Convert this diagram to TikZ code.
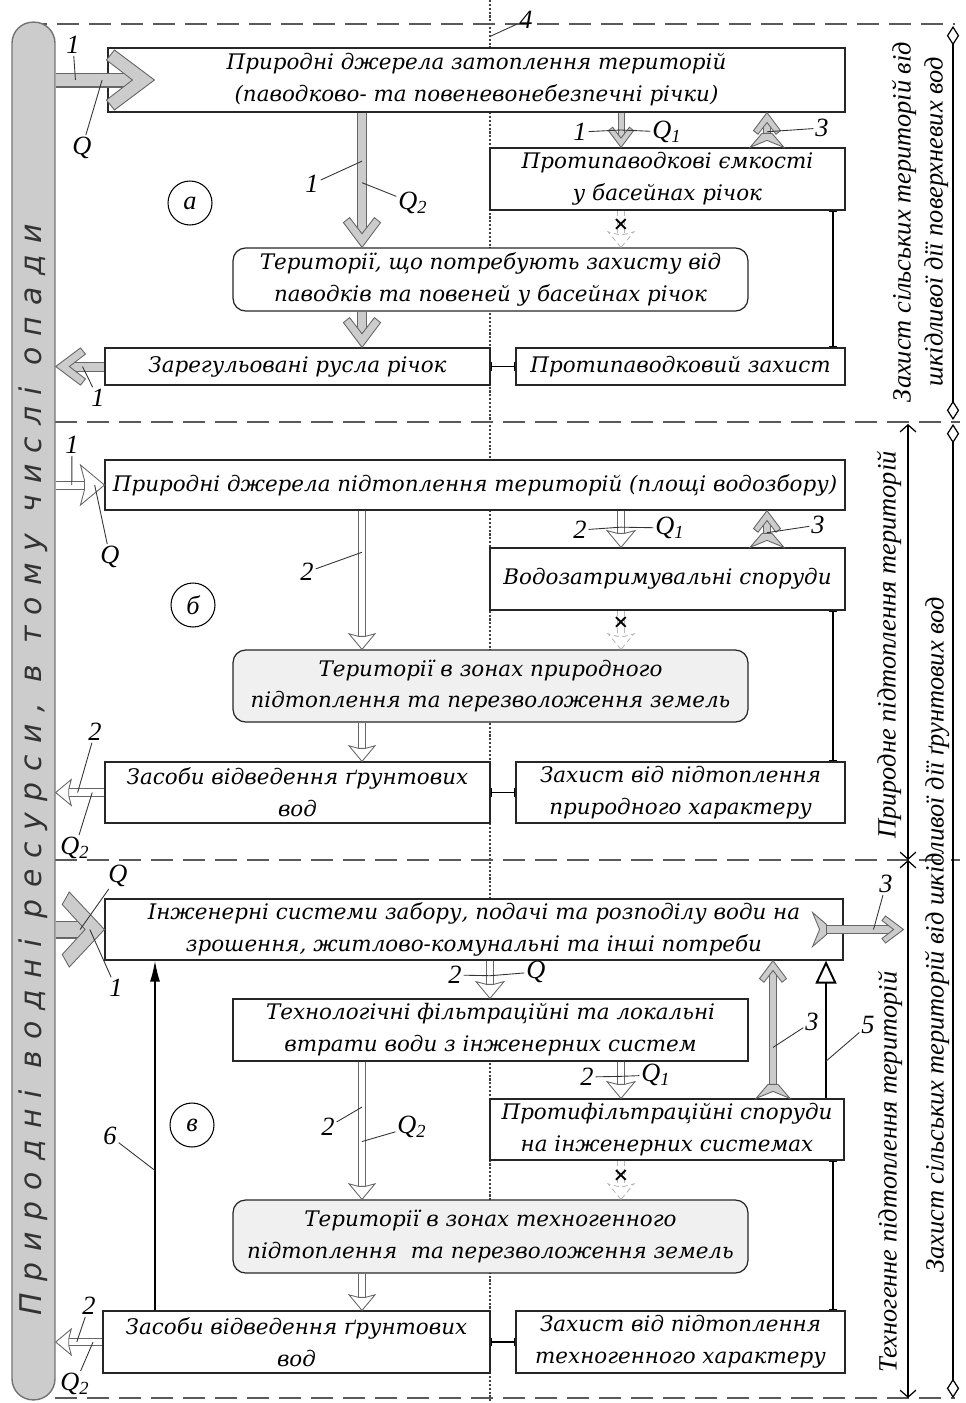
\documentclass[tikz,border=0pt]{standalone}
\usepackage{fontspec}
\setmainfont{DejaVu Serif}
\newfontfamily\sidefont{Liberation Serif}
\newfontfamily\barfont[LetterSpace=38, ItalicFont={DejaVu Sans Oblique}]{DejaVu Sans}
\usetikzlibrary{arrows.meta,decorations.markings}

\newcommand{\boxfont}{\fontsize{12.2}{18.2}\selectfont\itshape}
\newcommand{\lblfont}{\sidefont\fontsize{15}{15}\selectfont\itshape}
\newcommand{\sidetxt}{\sidefont\fontsize{15}{18.2}\selectfont\itshape}

% heads and tails, drawn in the arrow's own frame (tip at the origin)
\newcommand{\chev}[2]{\filldraw[draw=black!60, fill=#2, line width=0.5pt, solid,
  shorten >=0pt, shorten <=0pt, #1]
  (0,0) -- (-40,30) -- (-48,20) -- (-22,0) -- (-48,-20) -- (-40,-30) -- cycle;}
\newcommand{\dart}[3]{\filldraw[draw=#2, fill=white, line width=0.5pt, #3,
  shorten >=0pt, shorten <=0pt, scale=#1]
  (0,0) -- (-24,20) -- (-20,5) -- (-20,-5) -- (-24,-20) -- cycle;}
\newcommand{\fork}{\filldraw[draw=black!60, fill=gray!40, line width=0.5pt, solid,
  shorten >=0pt, shorten <=0pt]
  (0,17) -- (14,5) -- (14,-5) -- (0,-17) -- (7,0) -- cycle;}

\tikzset{
  box/.style={draw=black!85, fill=white, line width=0.7pt, align=center, font=\boxfont, inner sep=0pt},
  rbox/.style={box, rounded corners=0.25cm},
  sbox/.style={rbox, fill=gray!12},
  circ/.style={draw, circle, line width=0.6pt, minimum size=0.88cm, inner sep=0pt, font=\lblfont},
  lbl/.style={font=\lblfont, inner sep=1pt},
  lead/.style={line width=0.5pt, black!80},
  side/.style={rotate=90, align=center, font=\sidetxt, inner sep=0pt},
  tie/.style={line width=0.6pt, {Bar[width=5pt]}-{Bar[width=5pt]}},
  sect/.style={line width=1.1pt, black!65, dash pattern=on 0.44cm off 0.2cm},
  dim/.style={line width=0.7pt, {Straight Barb[length=4pt,width=9pt]}-{Straight Barb[length=4pt,width=9pt]}},
  zone/.style={line width=0.7pt, {Diamond[open,length=11pt,width=7pt]}-{Diamond[open,length=11pt,width=7pt]}},
  fat/.style n args={5}{line width=#1, draw=black!60, shorten >=#4,
    postaction={draw=#3, line width=#2},
    postaction={decorate, decoration={markings, mark=at position 1 with {#5}}}},
  gbig/.style={fat={0.30cm}{0.25cm}{gray!40}{0.43cm}{\chev{scale=1}{gray!40}}},
  ghuge/.style={fat={0.36cm}{0.31cm}{gray!40}{0.38cm}{\chev{xscale=0.88,yscale=1.25}{gray!40}}},
  gmed/.style={fat={0.20cm}{0.16cm}{gray!40}{0.28cm}{\chev{scale=0.62}{gray!40}}},
  gsml/.style={fat={0.14cm}{0.10cm}{gray!40}{0.18cm}{\chev{scale=0.42}{gray!40}}},
  wbig/.style={fat={0.18cm}{0.14cm}{white}{0.38cm}{\dart{1}{black!60}{solid}}},
  wmed/.style={fat={0.17cm}{0.13cm}{white}{0.25cm}{\dart{0.65}{black!60}{solid}}},
  wsml/.style={fat={0.15cm}{0.11cm}{white}{0.27cm}{\dart{0.7}{black!60}{solid}}},
  ghost/.style={line width=0.16cm, draw=gray!55, densely dashed, shorten >=0.25cm,
    postaction={draw=white, line width=0.12cm, solid},
    postaction={decorate, decoration={markings,
      mark=at position 1 with {\dart{0.65}{gray!55}{densely dashed}}}}},
  three/.style={line width=0.17cm, draw=black!60, shorten >=0.19cm, shorten <=0.24cm,
    postaction={draw=gray!40, line width=0.13cm},
    postaction={decorate, decoration={markings,
      mark=at position 0 with {\fork}, mark=at position 1 with {\chev{scale=0.45}{gray!40}}}}},
  arr6/.style={line width=0.9pt, -{Latex[length=0.42cm,width=0.2cm]}},
  arr5/.style={line width=1.1pt, -{Triangle[open,length=0.46cm,width=0.42cm]}},
  xmark/.style={font=\bfseries\fontsize{11}{11}\selectfont, inner sep=0pt, text=black},
}

\begin{document}
\begin{tikzpicture}[x=0.02cm, y=-0.02cm]
  \useasboundingbox (0,0) rectangle (966,1403);

  % frame
  \draw[line width=1.2pt, densely dotted, black!75] (490,0) -- (490,1403);
  \draw[sect] (25,24) -- (955,24);
  \draw[sect] (55,422) -- (960,422);
  \draw[sect] (55,860) -- (960,860);
  \draw[sect] (55,1398) -- (955,1398);
  \node[draw=black!55, fill=gray!40, line width=0.8pt, rounded corners=0.42cm,
    minimum width=0.86cm, minimum height=27.56cm, inner sep=0pt] (bar) at (33.5,711) {};
  \node[rotate=90, inner sep=0pt, text=black!80, font=\barfont\fontsize{17}{17}\selectfont\itshape]
    (bartxt) at (33,770) {Природні водні ресурси, в тому числі опади};
  \coordinate (d4) at (491,36);
  \node[lbl] (l4) at (526,20) {4};
  \draw[lead] (l4) -- (d4);

  % right side
  \draw[dim] (908,424) -- (908,860);
  \draw[dim] (908,860) -- (908,1398);
  \draw[zone] (953,26) -- (953,420);
  \draw[zone] (953,424) -- (953,1398);
  \node[side] (s1) at (920,222) {Захист сільських територій від\\шкідливої дії поверхневих вод};
  \node[side] (s2) at (889,645) {Природне підтоплення територій};
  \node[side] (s3) at (937,935) {Захист сільських територій від шкідливої дії ґрунтових вод};
  \node[side] (s4) at (890,1172) {Техногенне підтоплення територій};

  % columns for the arrows
  \coordinate (cx1) at (362,0);
  \coordinate (cx2) at (621,0);
  \coordinate (cx3) at (767,0);
  \coordinate (cx4) at (833,0);
  \coordinate (cx5) at (490,0);
  \coordinate (cx6) at (155,0);
  \coordinate (cx7) at (773,0);
  \coordinate (cx8) at (826,0);

  % (a)
  \node[box, minimum width=14.74cm, minimum height=1.28cm] (A1) at (476.5,80)
    {Природні джерела затоплення територій\\(паводково- та повеневонебезпечні річки)};
  \node[box, minimum width=7.1cm, minimum height=1.24cm] (A2) at (667.5,179)
    {Протипаводкові ємкості\\у басейнах річок};
  \node[rbox, minimum width=10.3cm, minimum height=1.26cm] (A3) at (490.5,279.5)
    {Території, що потребують захисту від\\паводків та повеней у басейнах річок};
  \node[box, minimum width=7.7cm, minimum height=0.74cm] (A4) at (297.5,366.5)
    {Зарегульовані русла річок};
  \node[box, minimum width=6.58cm, minimum height=0.74cm] (A5) at (680.5,366.5)
    {Протипаводковий захист};
  \node[circ] (ca) at (190,203) {а};

  \draw[gbig] (A1.west -| bar.east) -- ([xshift=0.94cm]A1.west)
    coordinate[pos=0.2] (a1) coordinate[pos=0.47] (a2);
  \draw[gmed] (A1.south -| cx1) -- (A3.north -| cx1)
    coordinate[pos=0.36] (a3) coordinate[pos=0.52] (a4);
  \draw[gmed] (A3.south -| cx1) -- (A4.north -| cx1);
  \draw[gmed] (A4.west) -- (A4.west -| bar.east) coordinate[pos=0.45] (a5);
  \draw[gsml] (A1.south -| cx2) -- (A2.north -| cx2) coordinate[pos=0.5] (a6);
  \draw[three] (A2.north -| cx3) -- (A1.south -| cx3) coordinate[pos=0.45] (a8);
  \draw[ghost] (A2.south -| cx2) -- (A3.north -| cx2) node[xmark, pos=0.38] (xa) {×};
  \draw[tie] (A4.east) -- (A5.west);
  \draw[tie] (A2.south -| cx4) -- (A5.north -| cx4);

  \node[lbl] (la1) at (73,45) {1};
  \node[lbl] (la2) at (82,148) {Q};
  \node[lbl] (la3) at (312,184) {1};
  \node[lbl] (la4) at (413,203) {Q\textsubscript{2}};
  \node[lbl] (la5) at (98,398) {1};
  \node[lbl] (la6) at (580,132) {1};
  \node[lbl] (la7) at (667,132) {Q\textsubscript{1}};
  \node[lbl] (la8) at (822,128) {3};
  \draw[lead] (la1) -- (a1);
  \draw[lead] (la2) -- (a2);
  \draw[lead] (la3) -- (a3);
  \draw[lead] (la4) -- (a4);
  \draw[lead] (la5) -- (a5);
  \draw[lead] (la6) -- (a6);
  \draw[lead] (la7) -- (a6);
  \draw[lead] (la8) -- (a8);

  % (b)
  \node[box, minimum width=14.8cm, minimum height=1.0cm] (B1) at (475,485)
    {Природні джерела підтоплення територій (площі водозбору)};
  \node[box, minimum width=7.1cm, minimum height=1.24cm] (B2) at (667.5,579)
    {Водозатримувальні споруди};
  \node[sbox, minimum width=10.3cm, minimum height=1.44cm] (B3) at (490.5,686)
    {Території в зонах природного\\підтоплення та перезволоження земель};
  \node[box, minimum width=7.7cm, minimum height=1.22cm] (B4) at (297.5,792.5)
    {Засоби відведення ґрунтових\\вод};
  \node[box, minimum width=6.58cm, minimum height=1.22cm] (B5) at (680.5,792.5)
    {Захист від підтоплення\\природного характеру};
  \node[circ] (cb) at (193,605) {б};

  \draw[wbig] (B1.west -| bar.east) -- (B1.west)
    coordinate[pos=0.33] (b1) coordinate[pos=0.8] (b2);
  \draw[wmed] (B1.south -| cx1) -- (B3.north -| cx1) coordinate[pos=0.3] (b3);
  \draw[wmed] (B3.south -| cx1) -- (B4.north -| cx1);
  \draw[wmed] (B4.west) -- (B4.west -| bar.east)
    coordinate[pos=0.55] (b4) coordinate[pos=0.25] (b5);
  \draw[wsml] (B1.south -| cx2) -- (B2.north -| cx2) coordinate[pos=0.45] (b6);
  \draw[three] (B2.north -| cx3) -- (B1.south -| cx3) coordinate[pos=0.4] (b8);
  \draw[ghost] (B2.south -| cx2) -- (B3.north -| cx2) node[xmark, pos=0.32] (xb) {×};
  \draw[tie] (B4.east) -- (B5.west);
  \draw[tie] (B2.south -| cx4) -- (B5.north -| cx4);

  \node[lbl] (lb1) at (72,445) {1};
  \node[lbl] (lb2) at (110,557) {Q};
  \node[lbl] (lb3) at (307,572) {2};
  \node[lbl] (lb4) at (95,732) {2};
  \node[lbl] (lb5) at (75,848) {Q\textsubscript{2}};
  \node[lbl] (lb6) at (580,530) {2};
  \node[lbl] (lb7) at (670,528) {Q\textsubscript{1}};
  \node[lbl] (lb8) at (818,525) {3};
  \draw[lead] (lb1) -- (b1);
  \draw[lead] (lb2) -- (b2);
  \draw[lead] (lb3) -- (b3);
  \draw[lead] (lb4) -- (b4);
  \draw[lead] (lb5) -- (b5);
  \draw[lead] (lb6) -- (b6);
  \draw[lead] (lb7) -- (b6);
  \draw[lead] (lb8) -- (b8);

  % (c)
  \node[box, minimum width=14.76cm, minimum height=1.22cm] (C1) at (474,929.5)
    {Інженерні системи забору, подачі та розподілу води на\\зрошення, житлово-комунальні та інші потреби};
  \node[box, minimum width=10.3cm, minimum height=1.24cm] (C2) at (490.5,1030)
    {Технологічні фільтраційні та локальні\\втрати води з інженерних систем};
  \node[box, minimum width=7.08cm, minimum height=1.22cm] (C3) at (667,1129.5)
    {Протифільтраційні споруди\\на інженерних системах};
  \node[sbox, minimum width=10.3cm, minimum height=1.46cm] (C4) at (490.5,1236.5)
    {Території в зонах техногенного\\підтоплення \ та перезволоження земель};
  \node[box, minimum width=7.74cm, minimum height=1.24cm] (C5) at (296.5,1342)
    {Засоби відведення ґрунтових\\вод};
  \node[box, minimum width=6.58cm, minimum height=1.24cm] (C6) at (680.5,1342)
    {Захист від підтоплення\\техногенного характеру};
  \node[circ] (cc) at (192,1125) {в};

  \draw[ghuge] (C1.west -| bar.east) -- (C1.west)
    coordinate[pos=0.5] (c1) coordinate[pos=0.7] (c2);
  \draw[wsml] (C1.south -| cx5) -- (C2.north -| cx5) coordinate[pos=0.4] (c3);
  \draw[wsml] (C2.south -| cx2) -- (C3.north -| cx2) coordinate[pos=0.4] (c5);
  \draw[wmed] (C2.south -| cx1) -- (C4.north -| cx1)
    coordinate[pos=0.33] (c7) coordinate[pos=0.58] (c8);
  \draw[wmed] (C4.south -| cx1) -- (C5.north -| cx1);
  \draw[wmed] (C5.west) -- (C5.west -| bar.east)
    coordinate[pos=0.55] (c9) coordinate[pos=0.2] (c10);
  \draw[arr6] (C5.north -| cx6) -- (C1.south -| cx6) coordinate[pos=0.4] (c11);
  \draw[three] (C3.north -| cx7) -- (C1.south -| cx7) coordinate[pos=0.37] (c12);
  \draw[arr5] (C3.north -| cx8) -- (C1.south -| cx8) coordinate[pos=0.27] (c13);
  \draw[three] ([xshift=-0.62cm]C1.east) -- ([xshift=1.2cm]C1.east) coordinate[pos=0.67] (c14);
  \draw[ghost] (C3.south -| cx2) -- (C4.north -| cx2) node[xmark, pos=0.38] (xc) {×};
  \draw[tie] (C5.east) -- (C6.west);
  \draw[tie] (C3.south -| cx4) -- (C6.north -| cx4);

  \node[lbl] (lc1) at (118,876) {Q};
  \node[lbl] (lc2) at (116,988) {1};
  \node[lbl] (lc3) at (455,975) {2};
  \node[lbl] (lc4) at (536,972) {Q};
  \node[lbl] (lc5) at (587,1077) {2};
  \node[lbl] (lc6) at (656,1075) {Q\textsubscript{1}};
  \node[lbl] (lc7) at (328,1127) {2};
  \node[lbl] (lc8) at (412,1127) {Q\textsubscript{2}};
  \node[lbl] (lc9) at (89,1306) {2};
  \node[lbl] (lc10) at (75,1384) {Q\textsubscript{2}};
  \node[lbl] (lc11) at (110,1136) {6};
  \node[lbl] (lc12) at (812,1022) {3};
  \node[lbl] (lc13) at (868,1025) {5};
  \node[lbl] (lc14) at (886,884) {3};
  \draw[lead] (lc1) -- (c1);
  \draw[lead] (lc2) -- (c2);
  \draw[lead] (lc3) -- (c3);
  \draw[lead] (lc4) -- (c3);
  \draw[lead] (lc5) -- (c5);
  \draw[lead] (lc6) -- (c5);
  \draw[lead] (lc7) -- (c7);
  \draw[lead] (lc8) -- (c8);
  \draw[lead] (lc9) -- (c9);
  \draw[lead] (lc10) -- (c10);
  \draw[lead] (lc11) -- (c11);
  \draw[lead] (lc12) -- (c12);
  \draw[lead] (lc13) -- (c13);
  \draw[lead] (lc14) -- (c14);
\end{tikzpicture}
\end{document}
